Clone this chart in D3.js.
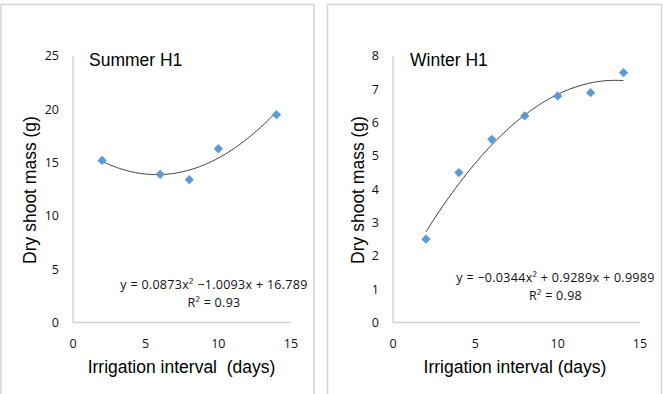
<!DOCTYPE html>
<html><head><meta charset="utf-8">
<script src="https://cdn.jsdelivr.net/npm/d3@7/dist/d3.min.js"></script>
<style>
html,body{margin:0;padding:0;background:#fff;}
text{font-family:"Liberation Sans",Arial,sans-serif;fill:#000;white-space:pre;}
.tick{font-family:"Open Sans","Liberation Sans",sans-serif;fill:#111;}
</style></head>
<body><svg id="c" width="663" height="394"></svg>
<script>
// ---- data ----
const summerX = [2, 6, 8, 10, 14];
const summerY = [15.2, 13.9, 13.4, 16.3, 19.5];
const summerCoef = [0.0873, -1.0093, 16.789]; // a, b, c of trendline
const summerTitle = "Summer H1";
const summerEq = "y = 0.0873x\u00B2 \u22121.0093x + 16.789";
const summerR2 = "R\u00B2 = 0.93";
const summerYTicks = [0, 5, 10, 15, 20, 25];
const summerXTitle = "Irrigation interval\u00A0 (days)";

const winterX = [2, 4, 6, 8, 10, 12, 14];
const winterY = [2.5, 4.5, 5.5, 6.2, 6.8, 6.9, 7.5];
const winterCoef = [-0.0344, 0.9289, 0.9989];
const winterTitle = "Winter H1";
const winterEq = "y = \u22120.0344x\u00B2 + 0.9289x + 0.9989";
const winterR2 = "R\u00B2 = 0.98";
const winterYTicks = [0, 1, 2, 3, 4, 5, 6, 7, 8];
const winterXTitle = "Irrigation interval (days)";

const xTicks = [0, 5, 10, 15];
const yTitle = "Dry shoot mass (g)";

const svg = d3.select("#c");

// panel borders
svg.append("path").attr("d","M1,400V4.5H314V400").attr("fill","none").attr("stroke","#d4d4d4").attr("stroke-width",1.5);
svg.append("path").attr("d","M327.5,400V4.5H661.5V400").attr("fill","none").attr("stroke","#d4d4d4").attr("stroke-width",1.5);

function drawPanel(o){
  const g = svg.append("g");
  const x = d3.scaleLinear().domain([0,15]).range([o.x0, o.x1]);
  const y = d3.scaleLinear().domain([0, o.ymax]).range([322.5, 56]);
  // axes lines
  g.append("line").attr("x1",x(0)).attr("x2",x(0)).attr("y1",y(0)).attr("y2",y(o.ymax)).attr("stroke","#d0d0d0").attr("stroke-width",1.3);
  g.append("line").attr("x1",x(0)).attr("x2",x(15)).attr("y1",y(0)).attr("y2",y(0)).attr("stroke","#d0d0d0").attr("stroke-width",1.3);
  // y ticks
  g.selectAll(".yt").data(o.yTicks).join("text").attr("class","tick")
    .attr("x", x(0)-14).attr("y", d=>y(d)).attr("dy","0.35em").attr("text-anchor","end")
    .attr("font-size","12.5px").text(d=>d);
  g.selectAll(".xt").data(xTicks).join("text").attr("class","tick")
    .attr("x", d=>x(d)).attr("y", 343.5).attr("dy","0.35em").attr("text-anchor","middle")
    .attr("font-size","12.5px").text(d=>d);
  // trendline
  const [a,b,c] = o.coef;
  const pts = d3.range(0, 121).map(i => { const t = 2 + i*0.1; return [t, a*t*t + b*t + c]; });
  g.append("path").datum(pts).attr("d", d3.line().x(d=>x(d[0])).y(d=>y(d[1])).curve(d3.curveBasis))
    .attr("fill","none").attr("stroke","#3a3a3a").attr("stroke-width",1);
  // markers
  g.selectAll(".pt").data(o.xs.map((v,i)=>[v,o.ys[i]])).join("path")
    .attr("d", d3.symbol().type(d3.symbolDiamond2).size(55))
    .attr("transform", d=>`translate(${x(d[0])},${y(d[1])})`)
    .attr("fill","#5b9bd5");
  // title
  g.append("text").attr("x", o.titleX).attr("y", 65.5).attr("font-size","17.5px").text(o.title);
  // axis titles
  g.append("text").attr("transform",`translate(${o.yTitleX},190) rotate(-90)`).attr("text-anchor","middle")
    .attr("dy","0.35em").attr("font-size","17.5px").text(yTitle);
  g.append("text").attr("x", o.xTitleX).attr("y", 372.5).attr("text-anchor","middle")
    .attr("font-size","17.5px").text(o.xTitle);
  // equation
  g.append("text").attr("class","tick").attr("x", o.eqX).attr("y", o.eqY).attr("dy","0.35em").attr("text-anchor","middle")
    .attr("font-size","12.5px").attr("letter-spacing","0.3px").text(o.eq);
  g.append("text").attr("class","tick").attr("x", o.eqX).attr("y", o.eqY+18).attr("dy","0.35em").attr("text-anchor","middle")
    .attr("font-size","12.5px").attr("letter-spacing","0.3px").text(o.r2);
}

drawPanel({x0:73, x1:291, ymax:25, yTicks:summerYTicks, xs:summerX, ys:summerY, coef:summerCoef,
  title:summerTitle, titleX:89, yTitleX:30, xTitle:summerXTitle, xTitleX:181.5,
  eq:summerEq, r2:summerR2, eqX:214, eqY:285});
drawPanel({x0:393, x1:640, ymax:8, yTicks:winterYTicks, xs:winterX, ys:winterY, coef:winterCoef,
  title:winterTitle, titleX:410, yTitleX:358, xTitle:winterXTitle, xTitleX:515,
  eq:winterEq, r2:winterR2, eqX:555.5, eqY:277.5});
</script></body></html>
